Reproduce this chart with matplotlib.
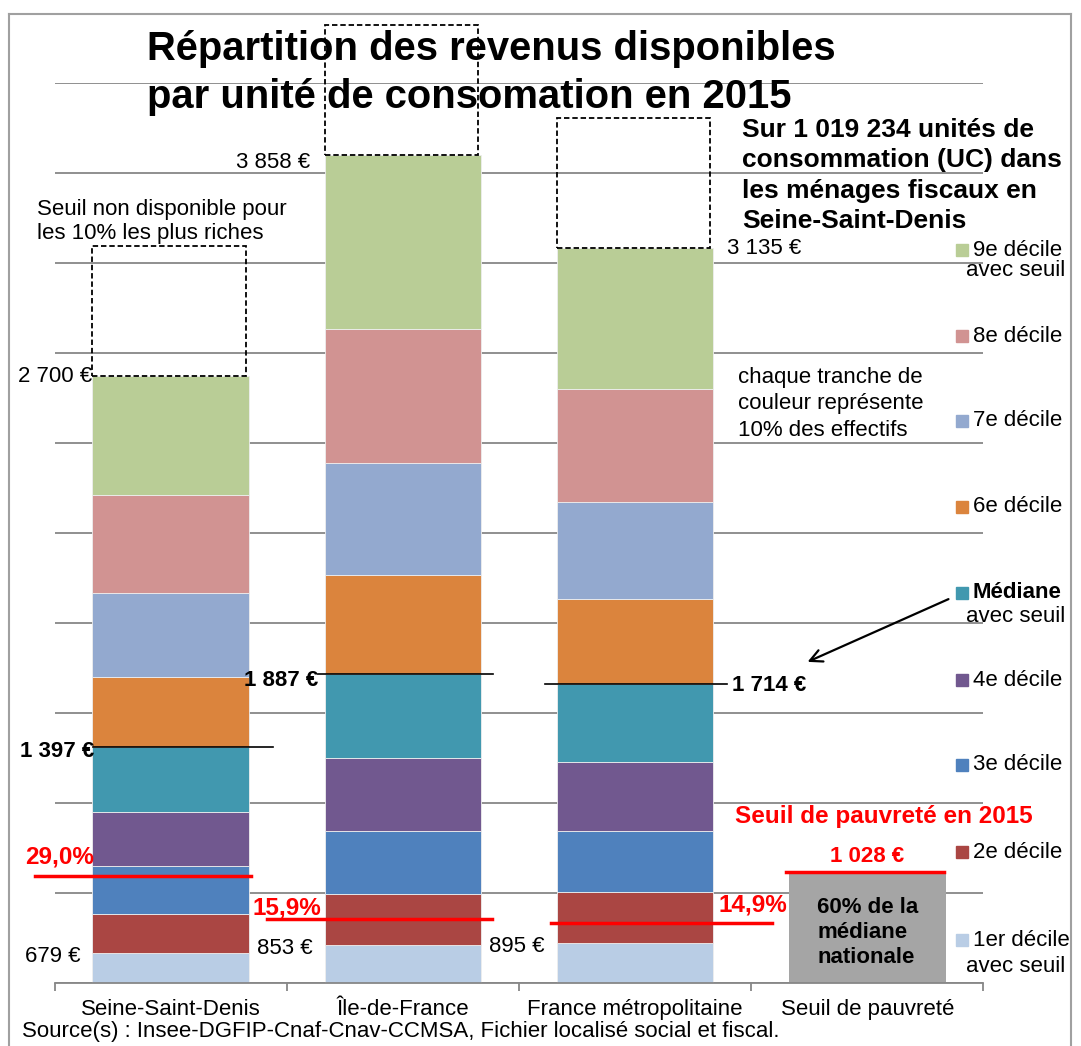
import matplotlib
matplotlib.use("Agg")
import matplotlib.pyplot as plt
from matplotlib.patches import Rectangle
from matplotlib.lines import Line2D

plt.rcParams['font.family'] = ['Liberation Sans', 'DejaVu Sans']

W, H = 1081, 1046

# --- données ---
territoires = ["Seine-Saint-Denis", "Île-de-France", "France métropolitaine"]
categories = territoires + ["Seuil de pauvreté"]
deciles = ["1er décile", "2e décile", "3e décile", "4e décile", "Médiane",
           "6e décile", "7e décile", "8e décile", "9e décile"]
# hauteurs cumulées des tranches (unités de l'axe, 400 par ligne de grille)
ssd = [133, 308, 521, 761, 1050, 1361, 1735, 2170, 2699]
idf = [170, 397, 677, 1001, 1375, 1815, 2312, 2908, 3681]
fra = [178, 404, 677, 982, 1330, 1708, 2138, 2640, 3267]
seuil_hauteur = 489
pauvrete_y = [478, 286, 268]

d1_labels = ["679 €", "853 €", "895 €"]
mediane_labels = ["1 397 €", "1 887 €", "1 714 €"]
haut_labels = ["2 700 €", "3 858 €", "3 135 €"]
pauvrete_pct = ["29,0%", "15,9%", "14,9%"]
seuil_label = "1 028 €"

couleurs = ["#B9CDE5", "#AA4643", "#4F81BD", "#71588F", "#4198AF",
            "#DB843D", "#93A9CF", "#D19392", "#B9CD96"]

# --- figure ---
fig = plt.figure(figsize=(W / 100, H / 100), dpi=100)
ax = fig.add_axes([54.7 / W, 1 - 983.3 / H, (983.3 - 54.7) / W, 900 / H])
ax.set_xlim(-0.5, 3.5)
ax.set_ylim(0, 4000)

def fx(x):
    return x / W

def fy(y):
    return 1 - y / H

bw = 0.675
for i, tops in enumerate([ssd, idf, fra]):
    bas = [0] + tops[:-1]
    hauts = [t - b for t, b in zip(tops, bas)]
    ax.bar([i] * 9, hauts, bottom=bas, width=bw, color=couleurs,
           edgecolor="#eeeeee", linewidth=0.6, zorder=2)
    # cadre pointillé : seuil non disponible
    ax.add_patch(Rectangle((i - bw / 2, tops[-1]), bw * 0.98, 578, fill=False,
                           ls=(0, (3, 1.6)), lw=1.3, ec="black",
                           clip_on=False, zorder=3))

ax.bar(3, seuil_hauteur, width=bw, color="#A5A5A5", zorder=2)

# lignes de grille et axes
ax.set_yticks(range(0, 4001, 400))
ax.yaxis.grid(True, color="#878787", lw=1.3)
ax.set_axisbelow(True)
ax.tick_params(axis="y", left=False, labelleft=False)
for s in ["left", "top", "right"]:
    ax.spines[s].set_visible(False)
ax.spines["bottom"].set_color("#878787")
ax.spines["bottom"].set_linewidth(1.3)
ax.set_xticks(range(4))
ax.set_xticklabels(categories, fontsize=16)
ax.set_xticks([-0.5, 0.5, 1.5, 2.5, 3.5], minor=True)
ax.tick_params(axis="x", which="major", length=0, pad=11)
ax.tick_params(axis="x", which="minor", length=6, color="#878787", width=1.3)

# étiquettes de valeurs
top_dx = [(-0.3375, 0, "right"), (-0.40, -31, "right"), (0.396, 0, "left")]
for i, tops in enumerate([ssd, idf, fra]):
    dx, dy, ha = top_dx[i]
    ax.text(i + dx, tops[-1] + dy, haut_labels[i], ha=ha, va="center",
            fontsize=16, zorder=5)
    ax.text(i - 0.39, tops[0] - 15, d1_labels[i], ha="right", va="center",
            fontsize=16, zorder=5)

# médianes
med_lines = [(-0.337, 0.44), (-0.365, 0.389), (-0.388, 0.396)]
med_text = [(-0.33, -20, "right"), (-0.366, -30, "right"), (0.418, -5, "left")]
for i, tops in enumerate([ssd, idf, fra]):
    y = tops[4]
    a, b = med_lines[i]
    ax.plot([i + a, i + b], [y, y], color="black", lw=1.2, zorder=4,
            clip_on=False)
    dx, dy, ha = med_text[i]
    ax.text(i + dx, y + dy, mediane_labels[i], ha=ha, va="center",
            fontsize=16, fontweight="bold", zorder=5)

# seuils de pauvreté
pv_lines = [(-0.584, 0.344), (-0.587, 0.384), (-0.362, 0.590)]
pv_text = [(-0.627, 84), (-0.65, 49), (0.358, 80)]
for i in range(3):
    y = pauvrete_y[i]
    a, b = pv_lines[i]
    ax.plot([i + a, i + b], [y, y], color="#FF0000", lw=2.5, zorder=4,
            clip_on=False)
    dx, dy = pv_text[i]
    ax.text(i + dx, y + dy, pauvrete_pct[i], ha="left", va="center",
            fontsize=17.5, fontweight="bold", color="#FF0000", zorder=5)

ax.plot([3 - 0.351, 3 + 0.33], [seuil_hauteur + 6, seuil_hauteur + 6],
        color="#FF0000", lw=2.5, zorder=4)
ax.text(3, 562, seuil_label, ha="center", va="center", fontsize=16,
        fontweight="bold", color="#FF0000")
ax.text(3.072, 740, "Seuil de pauvreté en 2015", ha="center", va="center",
        fontsize=17.5, fontweight="bold", color="#FF0000")
for k, ligne in enumerate(["60% de la", "médiane", "nationale"]):
    ax.text(2.785, 335 - 111 * k, ligne, ha="left", va="center",
            fontsize=16, fontweight="bold", zorder=5)

# titre et notes
fig.text(fx(147), fy(49), "Répartition des revenus disponibles",
         fontsize=28.8, fontweight="bold", va="center")
fig.text(fx(147), fy(97), "par unité de consomation en 2015",
         fontsize=28.8, fontweight="bold", va="center")
for k, ligne in enumerate(["Sur 1 019 234 unités de",
                           "consommation (UC) dans",
                           "les ménages fiscaux en",
                           "Seine-Saint-Denis"]):
    fig.text(fx(742), fy(130 + 30.3 * k), ligne, fontsize=19,
             fontweight="bold", va="center")
for k, ligne in enumerate(["Seuil non disponible pour",
                           "les 10% les plus riches"]):
    fig.text(fx(37), fy(210 + 24 * k), ligne, fontsize=16, va="center")
for k, ligne in enumerate(["chaque tranche de", "couleur représente",
                           "10% des effectifs"]):
    fig.text(fx(738), fy(377 + 26.7 * k), ligne, fontsize=16, va="center")
fig.text(fx(22), fy(1032),
         "Source(s) : Insee-DGFIP-Cnaf-Cnav-CCMSA, Fichier localisé social et fiscal.",
         fontsize=16, va="center")

# légende
leg_y = [940, 852, 765, 680, 593, 507, 421, 336, 250]
for k in range(9):
    y = leg_y[k]
    fig.patches.append(Rectangle((fx(956), fy(y + 6)), 12 / W, 12 / H,
                                 transform=fig.transFigure,
                                 color=couleurs[k]))
    fig.text(fx(973), fy(y), deciles[k], fontsize=16, va="center",
             fontweight="bold" if k == 4 else "normal")
for y in [271, 616, 966]:
    fig.text(fx(1065), fy(y), "avec seuil", fontsize=16, va="center",
             ha="right")

# flèche vers la médiane
ax.annotate("", xy=(fx(805), fy(663)), xycoords="figure fraction",
            xytext=(fx(951), fy(598)), textcoords="figure fraction",
            arrowprops=dict(arrowstyle="->", lw=1.6, mutation_scale=22,
                            color="black"))

# cadre extérieur
for (x0, y0, x1, y1) in [(9, 14, 9, 1046), (9, 14, 1071, 14),
                         (1071, 14, 1071, 1046)]:
    fig.add_artist(Line2D([fx(x0), fx(x1)], [fy(y0), fy(y1)],
                          transform=fig.transFigure, color="#A0A0A0", lw=1.5))

fig.savefig("out.png", dpi=100)
